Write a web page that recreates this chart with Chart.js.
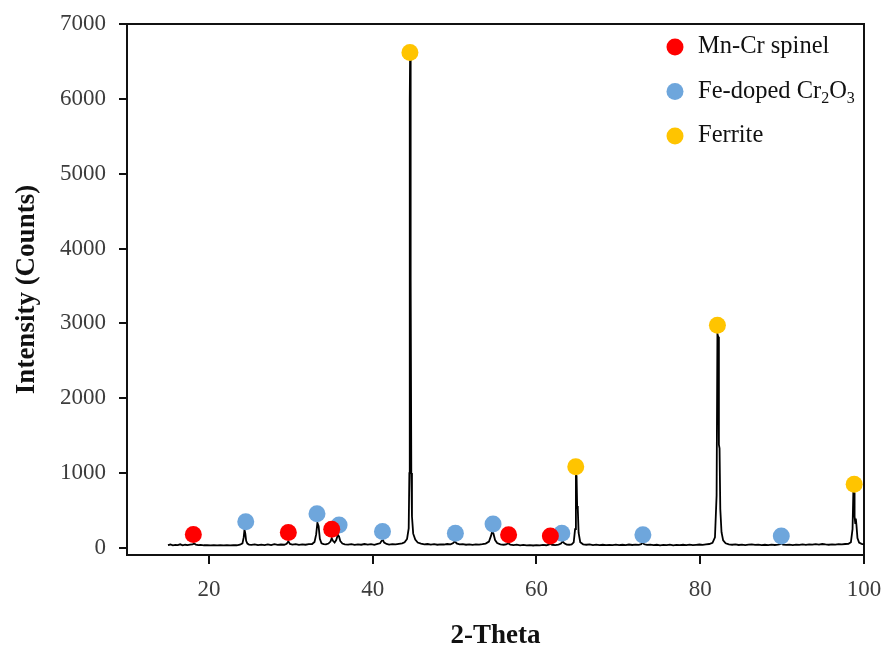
<!DOCTYPE html>
<html>
<head>
<meta charset="utf-8">
<title>XRD pattern</title>
<script src="https://cdn.jsdelivr.net/npm/chart.js@4.4.1/dist/chart.umd.min.js"></script>
<style>
    body { margin: 0; background: #ffffff; }
    #grafico { display: block; }
</style>
</head>
<body>
<canvas id="grafico" width="882" height="650"></canvas>
<script>
// difratograma (2-theta x contagens)
var lista_theta = [
    15.0, 15.3, 15.6, 15.9, 16.2, 16.5, 16.8, 17.1, 17.4, 17.7, 18.0, 18.2, 18.4, 18.7, 19.0, 19.4, 19.8,
    20.2, 20.6, 21.0, 21.4, 21.8, 22.2, 22.6, 23.0, 23.4, 23.8, 24.1, 24.25, 24.35, 24.45, 24.55, 24.7, 24.9,
    25.2, 25.6, 26.0, 26.4, 26.8, 27.2, 27.6, 28.0, 28.4, 28.8, 29.2, 29.5, 29.7, 29.9,
    30.2, 30.6, 31.0, 31.4, 31.8, 32.2, 32.6, 32.9, 33.1, 33.25, 33.4, 33.55, 33.75, 34.0, 34.3, 34.6, 34.85,
    35.0, 35.15, 35.35, 35.55, 35.75, 35.9, 36.05, 36.3, 36.6, 37.0, 37.4, 37.8, 38.2, 38.6, 39.0, 39.4, 39.8,
    40.2, 40.6, 40.9, 41.1, 41.25, 41.4, 41.7, 42.0, 42.4, 42.8, 43.2, 43.6, 43.9, 44.2, 44.4, 44.48, 44.53,
    44.57, 44.61, 44.67, 44.72, 44.8, 44.95, 45.2, 45.5, 45.9, 46.3, 46.7, 47.1, 47.5, 47.9, 48.3, 48.7, 49.1,
    49.5, 49.8, 50.05, 50.25, 50.6, 51.0, 51.4, 51.8, 52.2, 52.6, 53.0, 53.4, 53.8, 54.2, 54.45, 54.6, 54.75,
    54.95, 55.2, 55.6, 56.0, 56.3, 56.55, 56.8, 57.2, 57.6, 58.0, 58.4, 58.8, 59.2, 59.6,
    60.0, 60.4, 60.8, 61.2, 61.5, 61.7, 61.9, 62.3, 62.7, 63.0, 63.2, 63.4, 63.7, 64.0, 64.3, 64.55, 64.72,
    64.82, 64.9, 64.97, 65.05, 65.15, 65.35, 65.7, 66.1, 66.5, 66.9, 67.3, 67.7, 68.1, 68.5, 68.9, 69.3, 69.7,
    70.1, 70.5, 70.9, 71.3, 71.7, 72.1, 72.5, 72.8, 72.98, 73.15, 73.5, 73.9, 74.3, 74.7, 75.1, 75.5, 75.9,
    76.3, 76.7, 77.1, 77.5, 77.9, 78.3, 78.7, 79.1, 79.5, 79.9,
    80.3, 80.7, 81.1, 81.5, 81.8, 82.0, 82.1, 82.2, 82.28, 82.36, 82.45, 82.6, 82.8, 83.1, 83.5, 83.9,
    84.3, 84.7, 85.1, 85.5, 85.9, 86.3, 86.7, 87.1, 87.5, 87.9, 88.3, 88.7, 89.1, 89.5, 89.8, 89.95,
    90.1, 90.5, 90.9, 91.3, 91.7, 92.1, 92.5, 92.9, 93.3, 93.7, 94.1, 94.5, 94.9, 95.3, 95.7, 96.1, 96.5,
    96.9, 97.3, 97.7, 98.1, 98.4, 98.6, 98.7, 98.78, 98.85, 98.93, 99.0, 99.08, 99.2, 99.4, 99.7, 100.0
];
var lista_contagem = [
    38, 45, 33, 40, 36, 48, 34, 42, 37, 44, 46, 58, 44, 36, 40, 35, 38,
    34, 37, 33, 36, 34, 38, 33, 37, 35, 42, 60, 140, 245, 190, 95, 58, 45,
    40, 47, 36, 43, 38, 46, 37, 50, 40, 45, 42, 55, 88, 52,
    44, 50, 40, 47, 42, 49, 52, 80, 180, 335, 290, 120, 62, 50, 46, 58, 85,
    130, 95, 72, 105, 175, 150, 90, 58, 48, 43, 50, 40, 47, 42, 52, 44, 49,
    41, 53, 62, 95, 108, 72, 52, 45, 50, 46, 55, 60, 75, 120, 260, 1000, 6000,
    6560, 3700, 3600, 1000, 420, 190, 110, 72, 58, 48, 52, 44, 50, 42, 48, 45, 52,
    47, 62, 88, 60, 46, 50, 42, 48, 40, 46, 43, 50, 58, 85, 160, 222, 190,
    105, 65, 48, 42, 46, 62, 45, 38, 43, 35, 40, 34, 38, 32,
    37, 34, 39, 35, 42, 52, 42, 38, 44, 58, 88, 62, 45, 42, 48, 75, 250,
    990, 960, 560, 520, 200, 75, 48, 42, 46, 38, 43, 37, 42, 36, 41, 38, 44,
    37, 42, 36, 45, 39, 43, 41, 50, 72, 48, 40, 44, 37, 42, 35, 40, 36,
    43, 34, 39, 36, 42, 38, 44, 37, 41, 45,
    40, 47, 52, 68, 140, 700, 2860, 2820, 1380, 1330, 520, 210, 100, 62, 48, 42,
    46, 39, 44, 38, 43, 47, 40, 44, 38, 42, 37, 43, 39, 44, 50, 62,
    45, 40, 44, 38, 43, 40, 46, 41, 48, 43, 50, 45, 52, 46, 42, 48, 44,
    50, 46, 52, 55, 75, 250, 760, 740, 420, 330, 390, 300, 130, 70, 55, 48
];

// marcadores das fases
var nomes_fases = ['Mn-Cr spinel', 'Fe-doped Cr2O3', 'Ferrite'];
var cores_fases = ['#ff0000', '#6ea6dc', '#ffc400'];

var spinel_x = [18.1, 29.7, 35.0, 56.6, 61.7];
var spinel_y = [180, 205, 250, 175, 160];

var cr2o3_x = [24.5, 33.2, 35.9, 41.2, 50.1, 54.7, 63.1, 73.0, 89.9];
var cr2o3_y = [350, 455, 305, 218, 196, 320, 196, 174, 160];

var ferrite_x = [44.55, 64.8, 82.1, 98.8];
var ferrite_y = [6620, 1085, 2975, 850];

var ticks_x = [20, 40, 60, 80, 100];
var ticks_y = [0, 1000, 2000, 3000, 4000, 5000, 6000, 7000];

function juntar(xs, ys) {
    var pontos = [];
    for (let c = 0; c < xs.length; c++) {
        pontos.push({ x: xs[c], y: ys[c] });
    }
    return pontos;
}

var fonte_serif = "'Liberation Serif', 'Times New Roman', serif";

// zera o espaco extra que o chart.js reserva pros rotulos das pontas
function sem_folga(s) {
    s.paddingLeft = 0;
    s.paddingRight = 0;
    s.paddingTop = 0;
    s.paddingBottom = 0;
}

// legenda desenhada a mao por causa dos subscritos (Cr2O3)
var legenda_fases = {
    id: 'legenda_fases',
    afterDraw: function (chart) {
        var ctx = chart.ctx;
        var area = chart.chartArea;
        var x0 = area.right - 189;
        ctx.save();
        for (let i = 0; i < nomes_fases.length; i++) {
            var y0 = area.top + 23 + i * 44.5;
            ctx.beginPath();
            ctx.arc(x0, y0, 8.5, 0, Math.PI * 2);
            ctx.fillStyle = cores_fases[i];
            ctx.fill();

            var partes = nomes_fases[i].split(/(\d+)/);
            var xt = x0 + 23;
            ctx.fillStyle = '#111111';
            ctx.textBaseline = 'middle';
            ctx.textAlign = 'left';
            for (let p = 0; p < partes.length; p++) {
                if (partes[p] == '') continue;
                if (/^\d+$/.test(partes[p])) {
                    ctx.font = '16px ' + fonte_serif;
                    ctx.fillText(partes[p], xt, y0 + 7);
                } else {
                    ctx.font = '24.5px ' + fonte_serif;
                    ctx.fillText(partes[p], xt, y0);
                }
                xt += ctx.measureText(partes[p]).width;
            }
        }
        ctx.restore();
    }
};

const data = {
    datasets: [
        {
            label: 'XRD',
            data: juntar(lista_theta, lista_contagem),
            showLine: true,
            borderColor: '#000000',
            borderWidth: 1.8,
            pointRadius: 0,
            tension: 0,
            order: 4
        },
        {
            label: nomes_fases[0],
            data: juntar(spinel_x, spinel_y),
            backgroundColor: cores_fases[0],
            borderWidth: 0,
            pointRadius: 8.5,
            order: 1
        },
        {
            label: nomes_fases[1],
            data: juntar(cr2o3_x, cr2o3_y),
            backgroundColor: cores_fases[1],
            borderWidth: 0,
            pointRadius: 8.5,
            order: 2
        },
        {
            label: nomes_fases[2],
            data: juntar(ferrite_x, ferrite_y),
            backgroundColor: cores_fases[2],
            borderWidth: 0,
            pointRadius: 8.5,
            order: 3
        }
    ]
};

const config = {
    type: 'scatter',
    data: data,
    options: {
        responsive: false,
        animation: false,
        layout: { padding: { left: 0, right: 18, top: 24, bottom: 0 } },
        plugins: {
            legend: { display: false },
            tooltip: { enabled: false }
        },
        scales: {
            x: {
                type: 'linear',
                position: 'bottom',
                min: 10,
                max: 100,
                afterBuildTicks: function (s) { s.ticks = ticks_x.map(v => ({ value: v })); },
                afterFit: function (s) { s.height = 95; sem_folga(s); },
                grid: { display: true, drawOnChartArea: false, drawTicks: true, tickLength: 9, color: '#111111', lineWidth: 2 },
                border: { display: true, color: '#111111', width: 2 },
                ticks: {
                    color: '#3c3c3c', padding: 12, maxRotation: 0,
                    font: { family: fonte_serif, size: 23 },
                    callback: function (v) { return String(v); }
                },
                title: {
                    display: true,
                    text: '2-Theta',
                    color: '#111111',
                    padding: { top: -6, bottom: 0 },
                    font: { family: fonte_serif, size: 27, weight: 'bold', lineHeight: 1 }
                }
            },
            y: {
                type: 'linear',
                position: 'left',
                min: -95,
                max: 7000,
                afterBuildTicks: function (s) { s.ticks = ticks_y.map(v => ({ value: v })); },
                afterFit: function (s) { s.width = 127; sem_folga(s); },
                grid: { display: true, drawOnChartArea: false, drawTicks: true, tickLength: 8, color: '#111111', lineWidth: 2 },
                border: { display: true, color: '#111111', width: 2 },
                ticks: {
                    color: '#3c3c3c', padding: 13,
                    font: { family: fonte_serif, size: 23 },
                    callback: function (v) { return String(v); }
                },
                title: {
                    display: true,
                    text: 'Intensity (Counts)',
                    color: '#111111',
                    padding: { top: 14, bottom: 0 },
                    font: { family: fonte_serif, size: 27, weight: 'bold', lineHeight: 1 }
                }
            },
            x_topo: {
                type: 'linear',
                position: 'top',
                afterFit: function (s) { s.height = 0; sem_folga(s); },
                grid: { display: false },
                ticks: { display: false },
                border: { display: true, color: '#111111', width: 2 }
            },
            y_dir: {
                type: 'linear',
                position: 'right',
                afterFit: function (s) { s.width = 0; sem_folga(s); },
                grid: { display: false },
                ticks: { display: false },
                border: { display: true, color: '#111111', width: 2 }
            }
        }
    },
    plugins: [legenda_fases]
};

const myChart = new Chart(document.getElementById('grafico'), config);
</script>
</body>
</html>
